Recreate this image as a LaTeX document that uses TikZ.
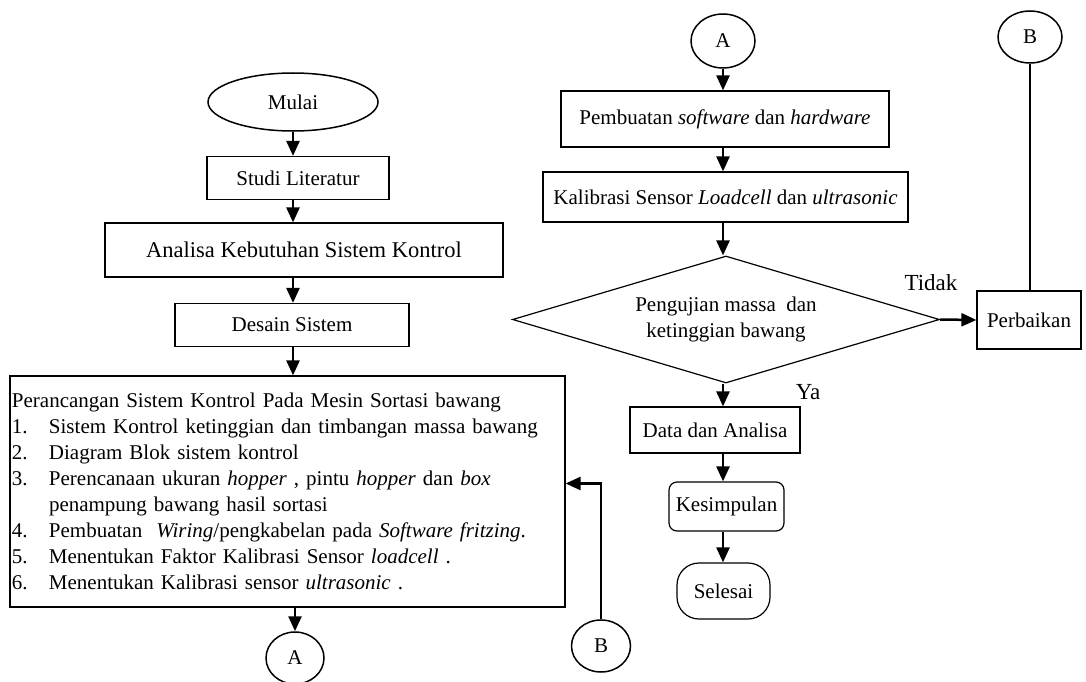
\documentclass[tikz,border=0pt]{standalone}
\usepackage{fontspec}
\setmainfont{Liberation Serif}
\usetikzlibrary{positioning,shapes.geometric,arrows.meta}
\newcommand{\nomor}[1]{\makebox[37pt][l]{#1}}

\begin{document}
\begin{tikzpicture}[x=1pt, y=-1pt,
    kotak/.style={draw, line width=1.2pt, inner sep=0pt, font=\fontsize{21}{26}\selectfont},
    bulat/.style={draw, ellipse, line width=1.5pt, inner sep=0pt, font=\fontsize{21}{26}\selectfont},
    panah/.style={-{Triangle[length=15pt,width=13pt]}, line width=2.5pt},
    garis/.style={line width=1.5pt},
    teks/.style={font=\fontsize{23}{26}\selectfont}]
  \useasboundingbox (0,0) rectangle (1086,682);

  % kolom kiri
  \node (mulai) [bulat, minimum width=170pt, minimum height=58pt] at (293,102) {Mulai};
  \node (studi) [kotak, minimum width=182pt, minimum height=43pt] at (298,178) {Studi Literatur};
  \node (analisa) [kotak, minimum width=398pt, minimum height=54pt,
    font=\fontsize{22.5}{26}\selectfont] at (304,250) {Analisa Kebutuhan Sistem Kontrol};
  \node (desain) [kotak, minimum width=234pt, minimum height=43pt] at (292,325) {Desain Sistem};
  \node (rancang) [kotak, minimum width=555pt, minimum height=231pt, text width=551pt,
    align=left] at (287.5,491.5) {Perancangan Sistem Kontrol Pada Mesin Sortasi bawang\\
    \nomor{1.}Sistem Kontrol ketinggian dan timbangan massa bawang\\
    \nomor{2.}Diagram Blok sistem kontrol\\
    \nomor{3.}Perencanaan ukuran \textit{hopper} , pintu \textit{hopper} dan \textit{box}\\
    \nomor{}penampung bawang hasil sortasi\\
    \nomor{4.}Pembuatan\ \ \textit{Wiring}/pengkabelan pada \textit{Software fritzing}.\\
    \nomor{5.}Menentukan Faktor Kalibrasi Sensor \textit{loadcell} .\\
    \nomor{6.}Menentukan Kalibrasi sensor \textit{ultrasonic} .};
  \node (a1) [bulat, minimum width=58pt, minimum height=52pt] at (295,658) {A};
  \node (b1) [bulat, minimum width=59pt, minimum height=52pt] at (601,646) {B};

  % kolom kanan
  \node (a2) [bulat, minimum width=64pt, minimum height=54pt] at (723,41) {A};
  \node (buat) [kotak, minimum width=328pt, minimum height=56pt] at (725,119)
    {Pembuatan \textit{software} dan \textit{hardware}};
  \node (kalib) [kotak, minimum width=365pt, minimum height=50pt] at (725.5,197)
    {Kalibrasi Sensor \textit{Loadcell} dan \textit{ultrasonic}};
  \node (uji) [draw, diamond, line width=1.2pt, inner sep=0pt, shape aspect=3.36,
    minimum width=427pt, minimum height=127pt, align=center,
    font=\fontsize{21}{26}\selectfont] at (726,319.5) {Pengujian massa\ \ dan\\ketinggian bawang};
  \node (baiki) [kotak, minimum width=104pt, minimum height=58pt] at (1029,320) {Perbaikan};
  \node (b2) [bulat, minimum width=64pt, minimum height=52pt] at (1030,37) {B};
  \node (data) [kotak, minimum width=170pt, minimum height=46pt] at (715,430) {Data dan Analisa};
  \node (simpul) [kotak, rounded corners=8pt, minimum width=115pt, minimum height=49pt]
    at (726.5,506.5) {Kesimpulan};
  \node (selesai) [kotak, rounded corners=22pt, minimum width=93pt, minimum height=56pt]
    at (723.5,591) {Selesai};
  \node (tidak) [teks] at (931,283) {Tidak};
  \node (ya) [teks] at (808,392) {Ya};

  \draw[panah] (mulai.south) -- (studi.north -| mulai.south);
  \draw[panah] (studi.south -| mulai.south) -- (analisa.north -| mulai.south);
  \draw[panah] (analisa.south -| mulai.south) -- (desain.north -| mulai.south);
  \draw[panah] (desain.south -| mulai.south) -- (rancang.north -| mulai.south);
  \draw[panah] (rancang.south -| a1.north) -- (a1.north);
  \draw[panah] (b1.north) |- ([yshift=8pt]rancang.east);

  \draw[panah] (a2.south) -- (buat.north -| a2.south);
  \draw[panah] (buat.south -| a2.south) -- (kalib.north -| a2.south);
  \draw[panah] (kalib.south -| a2.south) -- (uji.north -| a2.south);
  \draw[panah] (uji.east) -- (baiki.west);
  \draw[garis] (b2.south) -- (baiki.north -| b2.south);
  \draw[panah] (uji.south -| a2.south) -- (data.north -| a2.south);
  \draw[panah] (data.south -| a2.south) -- (simpul.north -| a2.south);
  \draw[panah] (simpul.south -| a2.south) -- (selesai.north -| a2.south);
\end{tikzpicture}
\end{document}
